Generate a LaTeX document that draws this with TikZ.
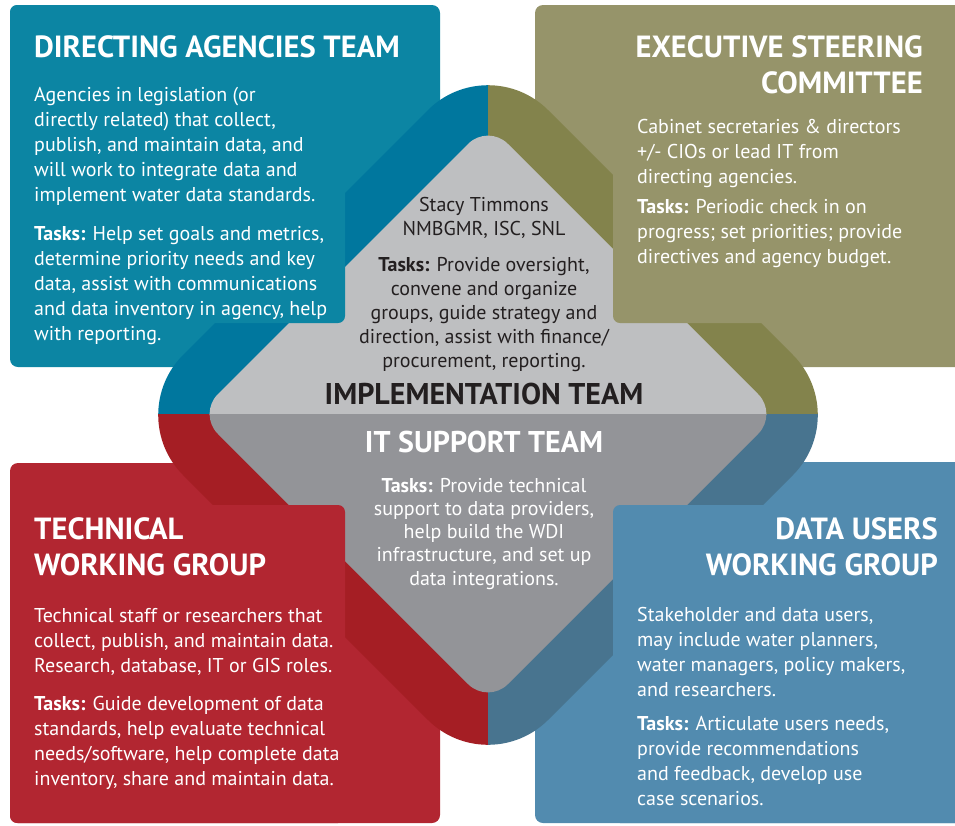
\documentclass[tikz,border=0pt]{standalone}
\usepackage{fontspec}
\setmainfont{PT Sans}
\definecolor{agencylight}{HTML}{0C85A3}
\definecolor{agencydark}{HTML}{00779E}
\definecolor{execlight}{HTML}{96946A}
\definecolor{execdark}{HTML}{83834C}
\definecolor{techlight}{HTML}{B22631}
\definecolor{techdark}{HTML}{A51E24}
\definecolor{userlight}{HTML}{528BAF}
\definecolor{userdark}{HTML}{48748F}
\definecolor{impgray}{HTML}{BEBFC1}
\definecolor{itgray}{HTML}{939498}
\definecolor{inkblack}{HTML}{231F20}

\begin{document}
\begin{tikzpicture}[x=1pt,y=-1pt,
    teamtitle/.style={font=\fontsize{30.6}{36}\selectfont\bfseries, text=white, inner sep=0pt},
    teambody/.style={font=\fontsize{20}{25}\selectfont, text=white, inner sep=0pt, align=left},
    coretitle/.style={font=\fontsize{30}{36}\selectfont\bfseries, inner sep=0pt},
    corebody/.style={font=\fontsize{20}{24}\selectfont, inner sep=0pt, align=center}]
        \clip (0,0) rectangle (955,825);

        % outer boxes
        \fill [agencylight, rounded corners=8pt] (10,5) rectangle (440,367);
        \fill [execlight, rounded corners=8pt] (535,5) rectangle (975,367);
        \fill [techlight, rounded corners=8pt] (10,463) rectangle (440,823);
        \fill [userlight, rounded corners=8pt] (535,462) rectangle (975,823);

        % rounded diamond behind, one colour per quarter
        \foreach \qx/\qy/\qcol in {0/0/agencydark, 955/0/execdark, 0/825/techdark, 955/825/userdark}{
            \begin{scope}
                \clip (488,414.5) rectangle (\qx,\qy);
                \fill [\qcol, rounded corners=85pt] (305.5,232.5) -- (488,50) -- (853,415) -- (488,780) -- (123,415) -- cycle;
            \end{scope}
        }

        % grey diamond
        \foreach \qy/\qcol in {0/impgray, 825/itgray}{
            \begin{scope}
                \clip (0,414.5) rectangle (955,\qy);
                \fill [\qcol, rounded corners=28pt] (343,269) -- (488,124) -- (778,414) -- (488,704) -- (198,414) -- cycle;
            \end{scope}
        }

        % text panels
        \fill [agencylight, rounded corners=7pt] (10,5) rectangle (345,323);
        \fill [execlight, rounded corners=7pt] (613,5) rectangle (975,323);
        \fill [techlight, rounded corners=7pt] (10,505) rectangle (345,823);
        \fill [userlight, rounded corners=7pt] (613,505) rectangle (975,823);

        % multi-line nodes sit on the baseline of their last line
        \node [teamtitle, anchor=base west] (agencytitle) at (34,57) {DIRECTING AGENCIES TEAM};
        \node [teambody, anchor=base west] (agencytext) at (34,340) {Agencies in legislation (or\\directly related) that collect,\\publish, and maintain data, and\\will work to integrate data and\\implement water data standards.\\[14pt]\textbf{Tasks:} Help set goals and metrics,\\determine priority needs and key\\data, assist with communications\\and data inventory in agency, help\\with reporting.};

        \node [teamtitle, anchor=base east, align=right] (exectitle) at (923,93) {EXECUTIVE STEERING\\COMMITTEE};
        \node [teambody, anchor=base west] (exectext) at (637,263) {Cabinet secretaries \& directors\\+/- CIOs or lead IT from\\directing agencies.\\[5pt]\textbf{Tasks:} Periodic check in on\\progress; set priorities; provide\\directives and agency budget.};

        \node [teamtitle, anchor=base west, align=left] (techtitle) at (34,575) {TECHNICAL\\WORKING GROUP};
        \node [teambody, anchor=base west] (techtext) at (34,785) {Technical staff or researchers that\\collect, publish, and maintain data.\\Research, database, IT or GIS roles.\\[13pt]\textbf{Tasks:} Guide development of data\\standards, help evaluate technical\\needs/software, help complete data\\inventory, share and maintain data.};

        \node [teamtitle, anchor=base east, align=right] (usertitle) at (938,575) {DATA USERS\\WORKING GROUP};
        \node [teambody, anchor=base west] (usertext) at (637,805) {Stakeholder and data users,\\may include water planners,\\water managers, policy makers,\\and researchers.\\[9pt]\textbf{Tasks:} Articulate users needs,\\provide recommendations\\and feedback, develop use\\case scenarios.};

        % centre
        \node [corebody, text=inkblack, anchor=base] (impltext) at (484,367) {Stacy Timmons\\NMBGMR, ISC, SNL\\[12pt]\textbf{Tasks:} Provide oversight,\\convene and organize\\groups, guide strategy and\\direction, assist with finance/\\procurement, reporting.};
        \node [coretitle, text=inkblack, anchor=base] (impltitle) at (484,404) {IMPLEMENTATION TEAM};
        \node [coretitle, text=white, anchor=base] (ittitle) at (484,452.5) {IT SUPPORT TEAM};
        \node [corebody, text=white, anchor=base, font=\fontsize{20}{23.2}\selectfont] (ittext) at (484,585) {\textbf{Tasks:} Provide technical\\support to data providers,\\help build the WDI\\infrastructure, and set up\\data integrations.};
\end{tikzpicture}
\end{document}
